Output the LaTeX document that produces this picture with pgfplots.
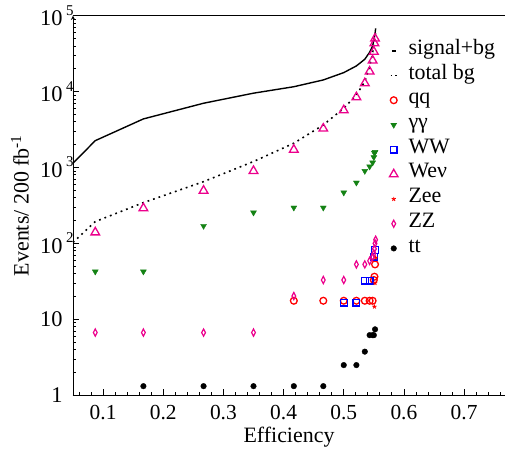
\documentclass[border=0pt]{standalone}
\usepackage{fontspec}
\setmainfont{Liberation Serif}
\usepackage{pgfplots}
\pgfplotsset{compat=1.18}
\definecolor{ggreen}{RGB}{20,130,20}
% decade label: 10 with a raised exponent hanging to the right
\newcommand{\dec}[1]{10\rlap{\,\raisebox{0.48em}{\fontsize{15}{15}\selectfont #1}}}
\begin{document}
\begin{tikzpicture}
\begin{axis}[
    scale only axis,
    width=432bp, height=379.6bp,
    xmin=0.05, xmax=0.768,
    ymode=log, ymin=1, ymax=1e5,
    axis x line=box, axis y line=left,
    every non boxed y axis/.append style={y axis line style={-}, ytick align=inside},
    axis line style={line width=0.9pt},
    tick style={line width=0.8pt, black},
    tick align=inside,
    major tick length=6bp, minor tick length=3.5bp,
    xtick pos=left,
    xtick={0.1,0.2,0.3,0.4,0.5,0.6,0.7},
    minor xtick={0.06,0.08,0.12,0.14,0.16,0.18,0.22,0.24,0.26,0.28,0.32,0.34,0.36,0.38,0.42,0.44,0.46,0.48,0.52,0.54,0.56,0.58,0.62,0.64,0.66,0.68,0.72,0.74,0.76},
    xticklabels={0.1,0.2,0.3,0.4,0.5,0.6,0.7},
    ytick={1,10,100,1000,10000,100000},
    yticklabels={1,10,\dec{2},\dec{3},\dec{4},\dec{5}},
    /pgf/number format/assume math mode=true,
    xticklabel style={font=\fontsize{21.5}{24}\selectfont, yshift=-6bp},
    yticklabel style={font=\fontsize{22.5}{24}\selectfont, anchor=east, xshift=-7bp},
    label style={font=\fontsize{22}{26}\selectfont},
    xlabel={Efficiency},
    ylabel={Events/ 200 fb\textsuperscript{-1}},
    xlabel style={at={(axis description cs:0.5,-0.11)}, anchor=center},
    ylabel style={at={(axis description cs:-0.123,0.5)}, anchor=center},
    legend style={draw=none, fill=none, at={(rel axis cs:0.727,0.9405)}, anchor=north west,
        font=\fontsize{22}{24}\selectfont, inner sep=0pt, column sep=8.3bp,
        nodes={inner sep=0pt, text height=16bp, text depth=8.7bp}},
    legend cell align=left,
    legend image code/.code={\path (0cm,0cm) (0.4cm,0cm); \draw[#1] plot coordinates {(0.2cm,0cm)};},
]
\addplot[black, line width=1.4pt, no marks,
    legend image code/.code={\path (0cm,0cm) (0.4cm,0cm); \draw[black, line width=1.4pt] (0.13cm,0cm) -- (0.27cm,0cm);}]
coordinates {
(0.050,1140) (0.087,2260) (0.167,4370) (0.267,7030) (0.350,9540)
(0.417,11600) (0.466,14250) (0.500,17800) (0.521,21800) (0.535,26700)
(0.543,33000) (0.548,40000) (0.550,48000) (0.552,58000) (0.553,68000)
};
\addlegendentry{signal+bg}
\addplot[black, line width=1.6pt, no marks, dash pattern=on 1.8pt off 4pt,
    legend image code/.code={\path (0cm,0cm) (0.4cm,0cm); \draw[black, line width=1.6pt, dash pattern=on 1.6pt off 3pt] (0.09cm,0cm) -- (0.31cm,0cm);}]
coordinates {
(0.050,103) (0.087,194) (0.167,345) (0.267,652) (0.350,1200)
(0.417,2090) (0.466,3640) (0.500,6040) (0.521,9040) (0.535,13550)
(0.543,21400) (0.548,32000) (0.551,48000) (0.553,60000)
};
\addlegendentry{total bg}
\addplot[only marks, red, mark=o, mark size=3.4bp, mark options={line width=1.3pt}]
coordinates {
(0.417,17.6) (0.466,17.6) (0.500,17.6) (0.521,17.6) (0.535,17.6)
(0.543,17.6) (0.548,17.6) (0.550,33) (0.551,36.5) (0.552,53)
};
\addlegendentry{qq}
\addplot[only marks, ggreen, mark=triangle*, mark size=3.4bp, mark options={rotate=180}]
coordinates {
(0.087,42.6) (0.167,42.6) (0.267,170) (0.350,255) (0.417,296)
(0.466,296) (0.500,468) (0.521,632) (0.535,900) (0.543,1030)
(0.548,1160) (0.550,1365) (0.551,1550) (0.552,1600)
};
\addlegendentry{γγ}
\addplot[only marks, blue, mark=square, mark size=3.4bp, mark options={line width=1.3pt}]
coordinates {
(0.500,16.6) (0.521,16.6) (0.535,32.4) (0.543,32.4) (0.551,67) (0.552,82)
};
\addlegendentry{WW}
\addplot[only marks, magenta, mark=triangle, mark size=5bp, mark options={line width=1.3pt}]
coordinates {
(0.087,140) (0.167,291) (0.267,496) (0.350,902) (0.417,1720)
(0.466,3260) (0.500,5690) (0.521,8440) (0.535,12900) (0.543,18400)
(0.548,25700) (0.550,33600) (0.551,43400) (0.552,50000)
};
\addlegendentry{Weν}
\addplot[only marks, red, mark=star, mark size=2.2bp, mark options={line width=0.9pt}]
coordinates {
(0.551,14.7) (0.552,30) (0.553,65)
};
\addlegendentry{Zee}
\addplot[only marks, magenta, mark=diamond, mark size=3.6bp, mark options={line width=1.2pt, xscale=0.7}]
coordinates {
(0.087,6.7) (0.167,6.7) (0.267,6.7) (0.350,6.7) (0.417,20.3)
(0.466,33) (0.500,33) (0.521,53) (0.535,53) (0.543,59)
(0.548,67) (0.550,74) (0.551,85) (0.552,100) (0.553,112)
};
\addlegendentry{ZZ}
\addplot[only marks, black, mark=*, mark size=2.8bp]
coordinates {
(0.167,1.32) (0.267,1.32) (0.350,1.32) (0.417,1.32) (0.466,1.32)
(0.500,2.5) (0.521,2.5) (0.535,3.76) (0.543,6.2) (0.548,6.2)
(0.550,6.2) (0.552,7.4)
};
\addlegendentry{tt}
\end{axis}
\pgfresetboundingbox
\path ([xshift=-73bp,yshift=-55.7bp]current axis.south west) rectangle ([yshift=15.7bp]current axis.north east);
\end{tikzpicture}
\end{document}
